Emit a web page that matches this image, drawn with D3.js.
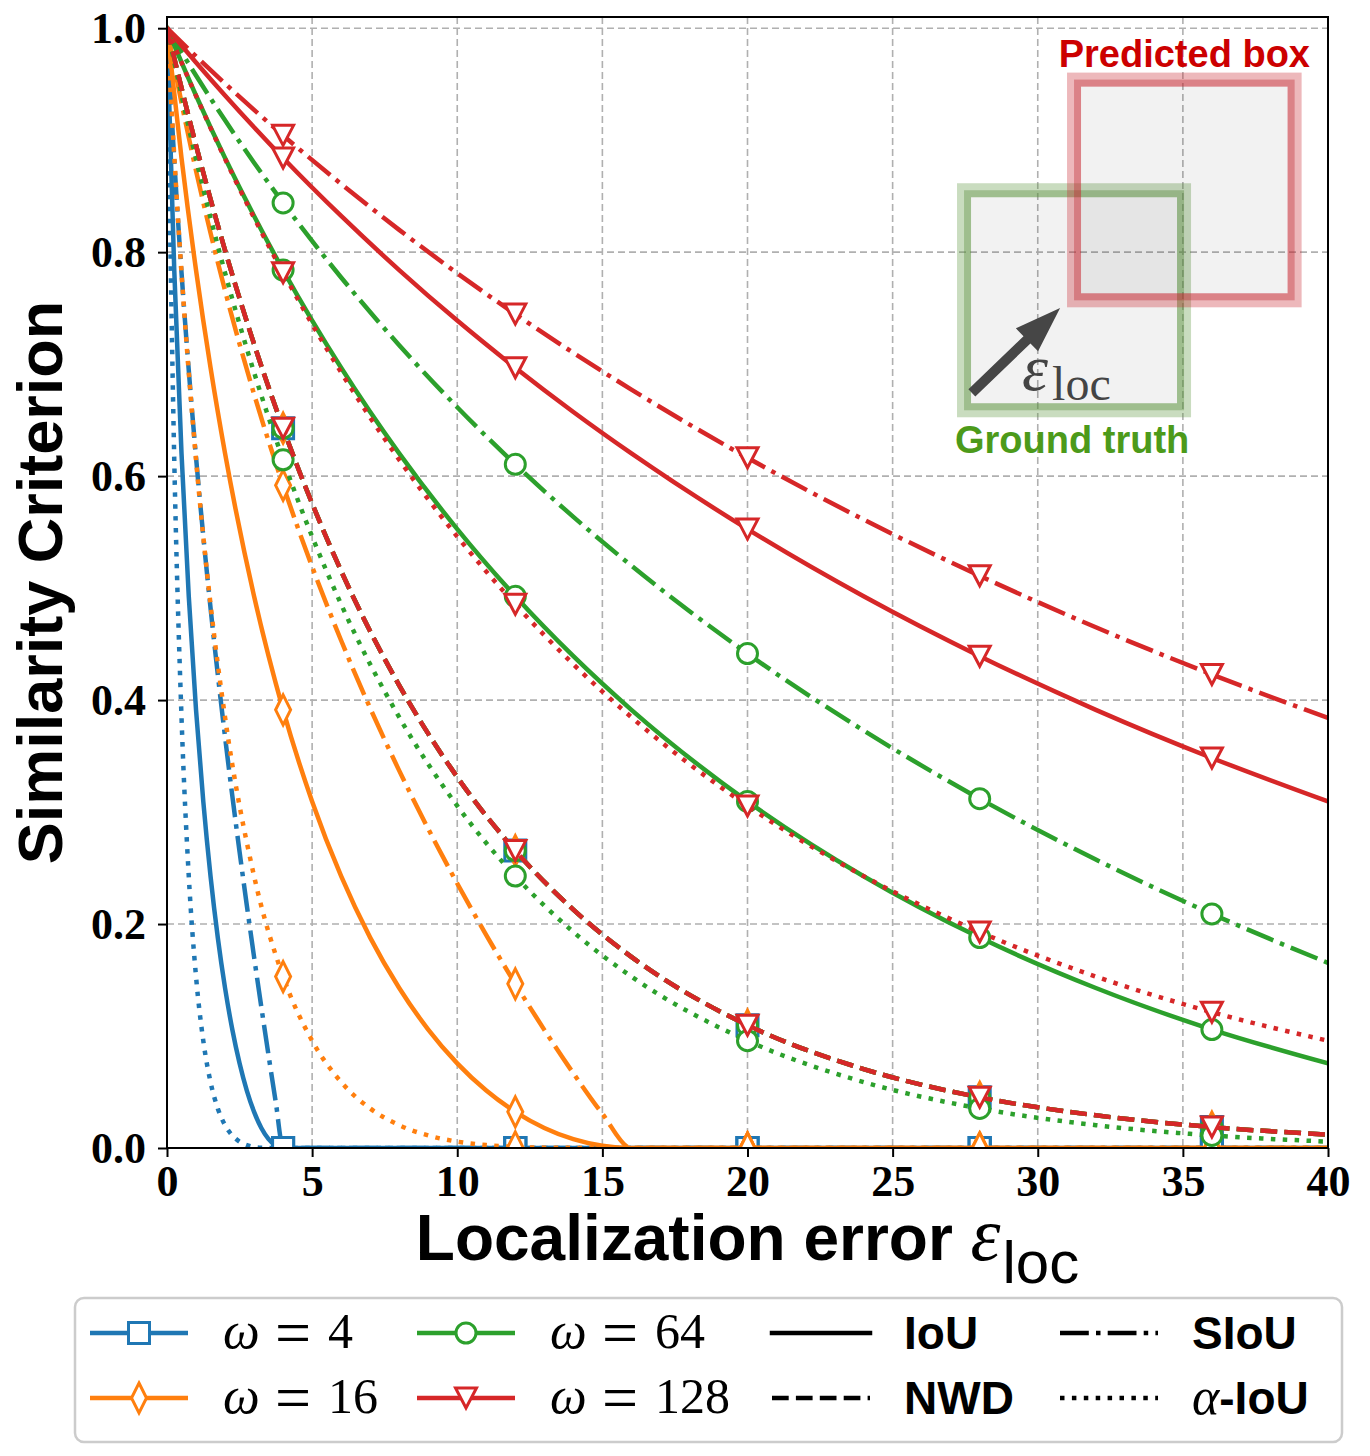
<!DOCTYPE html>
<html lang="en">
<head>
<meta charset="utf-8">
<title>Similarity Criterion vs Localization error</title>
<style>
  body { margin: 0; background: #fff; }
  svg { display: block; }
  .tick text { font-family: "Liberation Serif", "DejaVu Serif", serif; font-weight: bold; font-size: 44px; fill: #000; }
</style>
</head>
<body>
<svg id="chart" width="1370" height="1456"></svg>
<script src="https://cdn.jsdelivr.net/npm/d3@7"></script>
<script>
// ---- data ----
const omegas = [4, 16, 64, 128];
const criteria = ["IoU", "NWD", "SIoU", "α-IoU"];
const markerEps = [4, 12, 20, 28, 36];
const xTickVals = [0, 5, 10, 15, 20, 25, 30, 35, 40];
const yTickVals = [0, 0.2, 0.4, 0.6, 0.8, 1.0];

// sample positions of the localization error
const epsW4 = [0, 0.25, 0.5, 0.75, 1, 1.25, 1.5, 1.75, 2, 2.25, 2.5, 2.75, 3, 3.25, 3.5, 3.75, 4, 12, 20, 28, 36, 40];
const epsW16 = [0, 0.5, 1, 1.5, 2, 3, 4, 5, 6, 7, 8, 9, 10, 11, 12, 13, 14, 15, 16, 20, 28, 36, 40];
const epsCoarse = [0, 1, 2, 3, 4, 6, 8, 10, 12, 14, 16, 20, 24, 28, 32, 36, 40];

// omega = 4
const iou4  = [1, .7840, .6203, .4927, .3913, .3095, .2427, .1879, .1429, .1058, .0756, .0513, .0323, .0179, .0079, .0020, 0, 0, 0, 0, 0, 0];
const siou4 = [1, .8822, .7819, .6945, .6168, .5466, .4823, .4228, .3671, .3145, .2646, .2167, .1706, .1259, .0825, .0404, 0, 0, 0, 0, 0, 0];
const aiou4 = [1, .6146, .3847, .2428, .1531, .0958, .0589, .0353, .0204, .0112, .0057, .0026, .0010, .0003, .0001, 0, 0, 0, 0, 0, 0, 0];
// omega = 16
const iou16  = [1, .8841, .7840, .6968, .6203, .4927, .3913, .3095, .2427, .1879, .1429, .1058, .0756, .0513, .0323, .0179, .0079, .0020, 0, 0, 0, 0, 0];
const siou16 = [1, .9334, .8728, .8171, .7657, .6732, .5918, .5191, .4532, .3928, .3370, .2850, .2362, .1901, .1466, .1055, .0667, .0306, 0, 0, 0, 0, 0];
const aiou16 = [1, .7816, .6146, .4855, .3847, .2428, .1531, .0958, .0589, .0353, .0204, .0112, .0057, .0026, .0010, .0003, .0001, 0, 0, 0, 0, 0, 0];
// omega = 64
const iou64  = [1, .9399, .8841, .8323, .7840, .6968, .6203, .5527, .4927, .4392, .3913, .3095, .2427, .1879, .1429, .1058, .0756];
const siou64 = [1, .9577, .9177, .8799, .8440, .7774, .7169, .6615, .6105, .5636, .5200, .4415, .3728, .3119, .2576, .2090, .1653];
const aiou64 = [1, .8833, .7816, .6926, .6146, .4855, .3847, .3055, .2428, .1929, .1531, .0958, .0589, .0353, .0204, .0112, .0057];
// omega = 128
const iou128  = [1, .9694, .9399, .9115, .8841, .8323, .7840, .7389, .6968, .6573, .6203, .5527, .4927, .4392, .3913, .3483, .3095];
const siou128 = [1, .9749, .9506, .9271, .9043, .8609, .8199, .7812, .7447, .7101, .6773, .6164, .5612, .5110, .4650, .4229, .3840];
const aiou128 = [1, .9396, .8833, .8307, .7816, .6926, .6146, .5460, .4855, .4320, .3847, .3055, .2428, .1929, .1531, .1213, .0958];
// NWD does not depend on the box size, the four curves coincide
const nwdAll = [1, .8954, .8017, .7179, .6428, .5153, .4132, .3312, .2656, .2129, .1707, .1097, .0705, .0453, .0292, .0187, .0120];

// [omega index, criterion index, eps, values]
const seriesList = [
  [0, 0, epsW4, iou4], [0, 1, epsCoarse, nwdAll], [0, 2, epsW4, siou4], [0, 3, epsW4, aiou4],
  [1, 0, epsW16, iou16], [1, 1, epsCoarse, nwdAll], [1, 2, epsW16, siou16], [1, 3, epsW16, aiou16],
  [2, 0, epsCoarse, iou64], [2, 1, epsCoarse, nwdAll], [2, 2, epsCoarse, siou64], [2, 3, epsCoarse, aiou64],
  [3, 0, epsCoarse, iou128], [3, 1, epsCoarse, nwdAll], [3, 2, epsCoarse, siou128], [3, 3, epsCoarse, aiou128]
];

// inset sketch, in data coordinates: [x0, y0, x1, y1]
const gtBox = [27.46, 0.6588, 35.04, 0.8553];
const predBox = [31.25, 0.7570, 38.85, 0.9541];
const arrowTail = [27.73, 0.6743];
const arrowTip = [30.77, 0.7502];

// ---- styles ----
const omegaColors = ["#1f77b4", "#ff7f0e", "#2ca02c", "#d62728"];
const critDash = [null, "16.7,7.2", "28.8,7.2,4.5,7.2", "4.5,7.4"];
const markerPaths = [
  "M-10.5,-10.5H10.5V10.5H-10.5Z",
  "M0,-15L7.5,0L0,15L-7.5,0Z",
  "M10,0A10,10 0 1,1 -10,0A10,10 0 1,1 10,0Z",
  "M-10.5,-10L10.5,-10L0,10Z"
];
const lineW = 4.5;
const serif = '"Liberation Serif", "DejaVu Serif", serif';
const sans = '"Liberation Sans", Arial, sans-serif';

const plotL = 167, plotR = 1328, plotT = 17, plotB = 1148;
const x = d3.scaleLinear().domain([0, 40]).range([plotL, plotR]);
const y = d3.scaleLinear().domain([0, 1.01]).range([plotB, plotT]);

const svg = d3.select("#chart");
svg.append("rect").attr("width", 1370).attr("height", 1456).attr("fill", "#fff");

svg.append("clipPath").attr("id", "plotClip")
  .append("rect").attr("x", plotL).attr("y", plotT)
  .attr("width", plotR - plotL).attr("height", plotB - plotT);

// grid
const grid = svg.append("g").attr("stroke", "#b0b0b0").attr("stroke-width", 1.6)
  .attr("stroke-dasharray", "7,4");
grid.selectAll("line.gx").data(xTickVals).enter().append("line")
  .attr("x1", d => x(d)).attr("x2", d => x(d)).attr("y1", plotT).attr("y2", plotB);
grid.selectAll("line.gy").data(yTickVals).enter().append("line")
  .attr("y1", d => y(d)).attr("y2", d => y(d)).attr("x1", plotL).attr("x2", plotR);

// inset: ground truth and predicted box
function drawBox(b, color) {
  const bx = x(b[0]), by = y(b[3]), bw = x(b[2]) - x(b[0]), bh = y(b[1]) - y(b[3]);
  svg.append("rect").attr("x", bx).attr("y", by).attr("width", bw).attr("height", bh)
    .attr("fill", "#000").attr("fill-opacity", 0.05)
    .attr("stroke", color).attr("stroke-opacity", 0.33).attr("stroke-width", 14);
  svg.append("rect").attr("x", bx + 3.5).attr("y", by + 3.5).attr("width", bw - 7).attr("height", bh - 7)
    .attr("fill", "none")
    .attr("stroke", color).attr("stroke-opacity", 0.33).attr("stroke-width", 7);
}
drawBox(gtBox, "#5a963c");
drawBox(predBox, "#c82832");

{
  const tx = x(arrowTail[0]), ty = y(arrowTail[1]);
  const hx = x(arrowTip[0]), hy = y(arrowTip[1]);
  const len = Math.hypot(hx - tx, hy - ty);
  const ux = (hx - tx) / len, uy = (hy - ty) / len;
  const nx = -uy, ny = ux;
  const headLen = 46, shaft = 5, head = 16;
  const bx = hx - ux * headLen, by = hy - uy * headLen;
  const pts = [
    [tx + nx * shaft, ty + ny * shaft], [bx + nx * shaft, by + ny * shaft],
    [bx + nx * head, by + ny * head], [hx, hy],
    [bx - nx * head, by - ny * head], [bx - nx * shaft, by - ny * shaft],
    [tx - nx * shaft, ty - ny * shaft]
  ];
  svg.append("path").attr("d", "M" + pts.map(p => p.join(",")).join("L") + "Z").attr("fill", "#464646");
}
const epsLabel = svg.append("text").attr("x", x(29.46)).attr("y", y(0.677))
  .attr("fill", "#444").attr("font-family", serif);
epsLabel.append("tspan").attr("font-style", "italic").attr("font-size", 66).text("ε");
epsLabel.append("tspan").attr("font-size", 48).attr("dx", 4).attr("dy", 10).text("loc");

svg.append("text").attr("x", x(39.38)).attr("y", y(0.9654)).attr("text-anchor", "end")
  .attr("font-family", sans).attr("font-weight", "bold").attr("font-size", 38)
  .attr("fill", "#cc0000").text("Predicted box");
svg.append("text").attr("x", x(27.15)).attr("y", y(0.6207))
  .attr("font-family", sans).attr("font-weight", "bold").attr("font-size", 38)
  .attr("fill", "#4c9a1a").text("Ground truth");

// curves
const line = d3.line().x(d => x(d[0])).y(d => y(d[1])).curve(d3.curveMonotoneX);
const plot = svg.append("g").attr("clip-path", "url(#plotClip)");

seriesList.forEach(([oi, ci, eps, vals]) => {
  const pts = eps.map((e, i) => [e, vals[i]]);
  const g = plot.append("g").attr("class", "series");
  g.append("path").datum(pts)
    .attr("d", line)
    .attr("fill", "none")
    .attr("stroke", omegaColors[oi])
    .attr("stroke-width", lineW)
    .attr("stroke-linejoin", "round")
    .attr("stroke-linecap", critDash[ci] ? "butt" : "square")
    .attr("stroke-dasharray", critDash[ci]);
  g.selectAll("path.mk").data(pts.filter(p => markerEps.includes(p[0])))
    .enter().append("path")
    .attr("class", "mk")
    .attr("d", markerPaths[oi])
    .attr("transform", d => `translate(${x(d[0])},${y(d[1])})`)
    .attr("fill", "#fff")
    .attr("stroke", omegaColors[oi])
    .attr("stroke-width", 3)
    .attr("stroke-miterlimit", 10);
});

// axes
const yAxis = d3.axisLeft(y).tickValues(yTickVals).tickFormat(d3.format(".1f"))
  .tickSize(9).tickPadding(12);
const xAxis = d3.axisBottom(x).tickValues(xTickVals).tickFormat(d3.format("d"))
  .tickSize(9).tickPadding(8);
const gy = svg.append("g").attr("transform", `translate(${plotL},0)`).call(yAxis);
const gx = svg.append("g").attr("transform", `translate(0,${plotB})`).call(xAxis);
[gx, gy].forEach(g => {
  g.select(".domain").remove();
  g.selectAll(".tick line").attr("stroke", "#000").attr("stroke-width", 2);
  g.attr("font-family", null).attr("font-size", null);
});
gy.selectAll(".tick text").attr("dy", "0.33em");

// spines
svg.append("rect").attr("x", plotL).attr("y", plotT)
  .attr("width", plotR - plotL).attr("height", plotB - plotT)
  .attr("fill", "none").attr("stroke", "#000").attr("stroke-width", 2);

// axis labels
const xl = svg.append("text").attr("x", (plotL + plotR) / 2).attr("y", 1260)
  .attr("text-anchor", "middle").attr("fill", "#000");
xl.append("tspan").attr("font-family", sans).attr("font-weight", "bold").attr("font-size", 64)
  .text("Localization error ");
xl.append("tspan").attr("font-family", serif).attr("font-style", "italic").attr("font-size", 76).text("ε");
xl.append("tspan").attr("font-family", sans).attr("font-size", 60).attr("dx", 2).attr("dy", 23).text("loc");

svg.append("text").attr("transform", `translate(62,${(plotT + plotB) / 2}) rotate(-90)`)
  .attr("text-anchor", "middle").attr("font-family", sans).attr("font-weight", "bold")
  .attr("font-size", 63).attr("fill", "#000").text("Similarity Criterion");

// legend
const legend = svg.append("g");
legend.append("rect").attr("x", 75).attr("y", 1298).attr("width", 1267).attr("height", 144)
  .attr("rx", 9).attr("fill", "#fff").attr("fill-opacity", 0.8)
  .attr("stroke", "#cccccc").attr("stroke-width", 2.5);

const colHandle = [90, 417, 772, 1060];
const colText = [223, 550, 904, 1192];
const rowY = [1333, 1398];
const handleLen = 98;

omegas.forEach((w, i) => {
  const col = Math.floor(i / 2), row = i % 2;
  const cy = rowY[row];
  legend.append("line").attr("x1", colHandle[col]).attr("x2", colHandle[col] + handleLen)
    .attr("y1", cy).attr("y2", cy).attr("stroke", omegaColors[i]).attr("stroke-width", lineW);
  legend.append("path").attr("d", markerPaths[i])
    .attr("transform", `translate(${colHandle[col] + handleLen / 2},${cy})`)
    .attr("fill", "#fff").attr("stroke", omegaColors[i]).attr("stroke-width", 3);
  const tx = colText[col], ty = cy + 15;
  legend.append("text").attr("x", tx).attr("y", ty).attr("font-family", serif)
    .attr("font-style", "italic").attr("font-size", 52).text("ω");
  legend.append("text").attr("x", tx + 52).attr("y", ty + 6).attr("font-family", serif)
    .attr("font-size", 64).text("=");
  legend.append("text").attr("x", tx + 105).attr("y", ty).attr("font-family", serif)
    .attr("font-size", 50).text(w);
});

criteria.forEach((c, i) => {
  const col = 2 + Math.floor(i / 2), row = i % 2;
  const cy = rowY[row];
  legend.append("line").attr("x1", colHandle[col]).attr("x2", colHandle[col] + handleLen)
    .attr("y1", cy).attr("y2", cy).attr("stroke", "#000").attr("stroke-width", lineW)
    .attr("stroke-linecap", critDash[i] ? "butt" : "square")
    .attr("stroke-dasharray", critDash[i]);
  const t = legend.append("text").attr("x", colText[col]).attr("y", cy + 16).attr("fill", "#000");
  if (c.startsWith("α")) {
    t.append("tspan").attr("font-family", serif).attr("font-style", "italic").attr("font-size", 52).text("α");
    t.append("tspan").attr("font-family", sans).attr("font-weight", "bold").attr("font-size", 46).text(c.slice(1));
  } else {
    t.append("tspan").attr("font-family", sans).attr("font-weight", "bold").attr("font-size", 46).text(c);
  }
});
</script>
</body>
</html>
